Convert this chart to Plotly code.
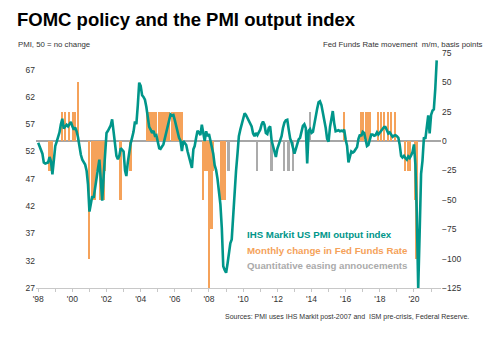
import pandas as pd
import plotly.graph_objects as go

# PMI output index, monthly from Jan 1998 (50 = no change)
pmi = [
    53.6, 53.0, 52.4, 51.6, 50.0, 49.8, 49.9, 50.0, 51.0, 50.2, 47.8, 50.5,  # 1998
    53.0, 53.8, 54.6, 55.5, 57.0, 58.0, 56.2, 56.5, 56.9, 56.6, 57.1, 57.4,  # 1999
    56.6, 56.0, 56.4, 55.7, 54.6, 52.4, 51.4, 50.5, 49.9, 49.6, 48.5, 46.0,  # 2000
    41.0, 42.2, 43.8, 43.5, 45.0, 46.7, 48.8, 50.5, 46.3, 43.0, 47.5, 52.4,  # 2001
    55.4, 55.8, 56.2, 56.8, 57.9, 55.4, 52.4, 51.2, 50.6, 51.2, 52.6, 52.2,  # 2002
    52.0, 48.5, 47.5, 50.0, 52.0, 53.5, 54.5, 55.6, 57.5, 57.0, 60.5, 64.6,  # 2003
    64.0, 62.3, 62.0, 61.5, 60.2, 58.0, 56.5, 56.0, 55.4, 55.8, 54.9, 55.0,  # 2004
    53.4, 52.6, 52.5, 53.0, 53.3, 54.4, 55.6, 57.0, 58.2, 58.8, 58.6, 58.7,  # 2005
    57.7, 56.4, 55.2, 54.5, 54.0, 52.1, 53.9, 53.6, 53.2, 52.0, 51.0, 49.8,  # 2006
    49.0, 52.4, 53.0, 54.5, 55.8, 55.5, 55.0, 56.9, 55.1, 53.9, 55.7, 54.8,  # 2007
    55.2, 53.9, 53.2, 51.6, 49.5, 48.6, 47.0, 45.0, 42.3, 38.0, 31.0, 30.3,  # 2008
    29.8, 31.5, 33.5, 35.2, 35.9, 40.5, 43.8, 48.4, 51.5, 54.8, 56.0, 57.0,  # 2009
    58.5, 59.0, 58.7, 58.2, 57.6, 57.2, 56.6, 55.3, 54.8, 55.4, 55.0, 55.5,  # 2010
    56.0, 57.0, 57.5, 56.9, 55.4, 55.2, 56.3, 56.6, 54.0, 53.0, 52.0, 51.0,  # 2011
    52.5, 53.3, 54.3, 54.8, 56.3, 57.3, 57.7, 57.8, 56.0, 54.4, 53.7, 52.5,  # 2012
    51.6, 52.5, 53.3, 54.2, 54.5, 55.6, 56.7, 57.0, 56.3, 49.8, 55.8, 56.1,  # 2013
    55.4, 55.6, 57.1, 58.5, 59.8, 61.0, 61.2, 60.5, 59.2, 58.0, 56.3, 54.3,  # 2014
    53.8, 56.5, 58.2, 59.4, 57.2, 55.7, 55.8, 55.9, 55.7, 55.8, 55.7, 56.0,  # 2015
    54.2, 53.0, 50.0, 51.0, 52.0, 51.8, 52.0, 52.4, 52.8, 54.3, 55.1, 54.8,  # 2016
    55.6, 55.4, 54.0, 53.0, 53.2, 54.0, 55.1, 55.1, 54.9, 55.0, 55.5, 55.1,  # 2017
    55.5, 55.8, 56.2, 56.5, 56.5, 55.9, 55.3, 55.5, 55.1, 54.7, 54.9, 55.0,  # 2018
    54.8, 54.5, 53.3, 51.2, 50.9, 51.2, 50.8, 50.5, 51.1, 50.8, 51.3, 51.9,  # 2019
    53.3, 49.6, 40.9, 27.0, 37.0, 47.9, 50.3, 54.6, 54.3, 56.3, 58.6, 55.3,  # 2020
    58.7, 59.5, 59.7, 63.5, 68.7,                                              # 2021
]
pmi_months = pd.date_range("1998-01-01", periods=len(pmi), freq="MS")

# Monthly change in the Fed Funds target rate, basis points
fed_months = [
    "1998-09", "1998-10", "1998-11",
    "1999-06", "1999-08", "1999-11",
    "2000-02", "2000-03", "2000-05",
    "2001-01", "2001-03", "2001-04", "2001-05", "2001-06", "2001-08",
    "2001-09", "2001-10", "2001-11", "2001-12",
    "2002-11", "2003-06",
    "2004-06", "2004-08", "2004-09", "2004-11", "2004-12",
    "2005-02", "2005-03", "2005-05", "2005-06", "2005-08", "2005-09",
    "2005-11", "2005-12",
    "2006-01", "2006-03", "2006-05", "2006-06",
    "2007-09", "2007-10", "2007-12",
    "2008-01", "2008-03", "2008-04", "2008-10", "2008-12",
    "2015-12", "2016-12", "2017-01", "2017-04", "2017-06",
    "2017-12", "2018-02", "2018-04", "2018-07", "2018-09", "2018-12",
    "2019-07", "2019-09", "2019-10",
    "2020-02", "2020-03",
]
fed_bp = [
    -25, -25, -25,
    25, 25, 25,
    25, 25, 50,
    -100, -50, -50, -50, -25, -25,
    -50, -50, -50, -25,
    -50, -25,
    25, 25, 25, 25, 25,
    25, 25, 25, 25, 25, 25,
    25, 25,
    25, 25, 25, 25,
    -50, -25, -25,
    -125, -75, -25, -50, -50,
    25, 25, 25, 25, 25,
    25, 25, 25, 25, 25, 25,
    -25, -25, -25,
    -50, -100,
]

# Quantitative easing announcements (+25 marks the taper)
qe_months = ["2008-11", "2009-03", "2010-11", "2011-09", "2012-06",
             "2012-09", "2012-12", "2013-12", "2020-03"]
qe_bp = [-25, -25, -25, -25, -25, -25, -25, 25, -25]

TEAL = "#00968A"
ORANGE = "#F5A25A"
GREY = "#ABABAB"
FONT = "Arial, Liberation Sans, sans-serif"

bar_width = 42 * 24 * 3600 * 1000  # ms

fig = go.Figure()
fig.add_trace(go.Bar(
    x=pd.to_datetime(qe_months), y=qe_bp, yaxis="y",
    marker=dict(color=GREY, line=dict(width=0)), width=bar_width,
    showlegend=False,
))
fig.add_trace(go.Bar(
    x=pd.to_datetime(fed_months), y=fed_bp, yaxis="y",
    marker=dict(color=ORANGE, line=dict(width=0)), width=bar_width,
    showlegend=False,
))
fig.add_trace(go.Scatter(
    x=pmi_months, y=pmi, yaxis="y2", mode="lines",
    line=dict(color=TEAL, width=2.6), showlegend=False,
))

L, T, W, H = 36, 53, 405, 235


def px(xp):
    return (xp - L) / W


def py(yp):
    return (T + H - yp) / H


annotations = [
    dict(text="<b>FOMC policy and the PMI output index</b>", x=px(15), y=py(19.5),
         xanchor="left", yanchor="middle", font=dict(size=18.5, color="#000000")),
    dict(text="PMI, 50 = no change", x=px(16), y=py(45),
         xanchor="left", yanchor="middle", font=dict(size=7.8, color="#333333")),
    dict(text="Fed Funds Rate movement  m/m, basis points", x=px(485), y=py(45),
         xanchor="right", yanchor="middle", font=dict(size=7.8, color="#333333")),
    dict(text="<b>IHS Markit US PMI output index</b>", x=px(245), y=py(234.5),
         xanchor="left", yanchor="middle", font=dict(size=9.7, color=TEAL)),
    dict(text="<b>Monthly change in Fed Funds Rate</b>", x=px(245), y=py(250),
         xanchor="left", yanchor="middle", font=dict(size=9.7, color=ORANGE)),
    dict(text="<b>Quantitative easing annoucements</b>", x=px(245), y=py(265.5),
         xanchor="left", yanchor="middle", font=dict(size=9.7, color=GREY)),
    dict(text="Sources: PMI uses IHS Markit post-2007 and  ISM pre-crisis, Federal Reserve.",
         x=px(471), y=py(317), xanchor="right", yanchor="middle",
         font=dict(size=7, color="#333333")),
]
for a in annotations:
    a.update(xref="paper", yref="paper", showarrow=False)

fig.update_layout(
    width=492, height=342,
    margin=dict(l=L, r=492 - L - W, t=T, b=342 - T - H),
    paper_bgcolor="white", plot_bgcolor="white",
    font=dict(family=FONT, size=8.5, color="#333333"),
    barmode="overlay", bargap=0,
    showlegend=False,
    annotations=annotations,
    xaxis=dict(
        type="date", range=["1997-11-15", "2021-08-01"],
        tick0="1998-01-01", dtick="M24", tickformat="'%y",
        showgrid=False, zeroline=False,
        showline=True, linecolor="#C8C8C8", linewidth=1,
        ticks="outside", ticklen=3, tickcolor="#C8C8C8",
        minor=dict(dtick="M12", ticks="outside", ticklen=3, tickcolor="#C8C8C8"),
        tickfont=dict(size=8.5, color="#333333"),
    ),
    yaxis=dict(
        side="right", range=[-125, 75], dtick=25, tick0=0,
        showgrid=False, showline=False, ticks="",
        zeroline=True, zerolinecolor="#A6A6A6", zerolinewidth=1.5,
        tickfont=dict(size=8.5, color="#333333"),
    ),
    yaxis2=dict(
        overlaying="y", side="left", range=[27, 70.04],
        tickvals=[27, 32, 37, 42, 47, 52, 57, 62, 67],
        showgrid=False, showline=False, zeroline=False, ticks="",
        tickfont=dict(size=8.5, color="#333333"),
    ),
)

fig.write_html("out.html")
